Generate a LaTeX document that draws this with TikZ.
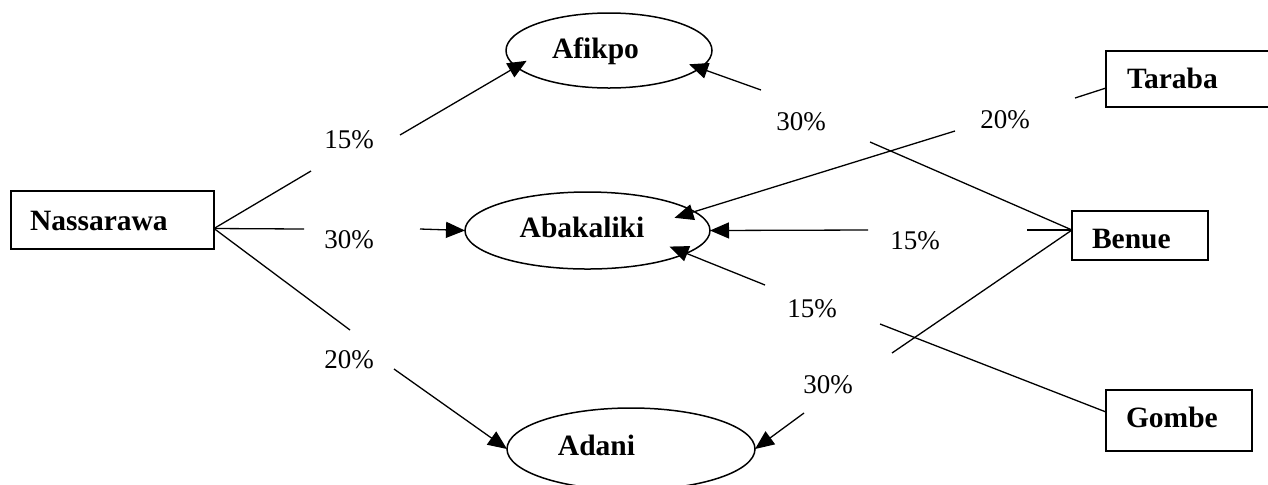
\documentclass[tikz,border=0pt]{standalone}
\usepackage{fontspec}
\setmainfont{Liberation Serif}
\usetikzlibrary{arrows.meta,shapes.geometric}
\begin{document}
\begin{tikzpicture}[x=0.5pt,y=-0.5pt,
  conn/.style={line width=0.65pt},
  arr/.style={conn,-{Triangle[length=9.5pt,width=8pt]}},
  pct/.style={font=\fontsize{13.5}{16}\selectfont, inner sep=0pt, anchor=base},
  place/.style={draw, line width=0.75pt, ellipse, inner sep=0pt, outer sep=0pt,
    font=\fontsize{14.75}{17}\selectfont\bfseries, text height=10.2pt},
  statebox/.style={draw, line width=0.8pt, rectangle, inner ysep=0pt, outer sep=0pt,
    align=left, anchor=north west, font=\fontsize{14.75}{17}\selectfont\bfseries}
]
\useasboundingbox (0,0) rectangle (1268,484);

% boxes
\node[statebox, inner xsep=9.5pt, text width=82.5pt, text height=19.5pt, text depth=9.5pt] (nas) at (11,191) {Nassarawa};
\node[statebox, inner xsep=10.5pt, text width=90pt, text height=18.5pt, text depth=9.5pt] (taraba) at (1106,51) {Taraba};
\node[statebox, inner xsep=10pt, text width=48pt, text height=18.5pt, text depth=6pt] (benue) at (1072,211) {Benue};
\node[statebox, inner xsep=10pt, text width=53pt, text height=18.5pt, text depth=12pt] (gombe) at (1106,390) {Gombe};

% ellipses
\node[place, minimum width=103pt, minimum height=37.5pt, text depth=2.7pt] (afikpo) at (609,50.5) {\hspace*{-13.5pt}Afikpo};
\node[place, minimum width=122.5pt, minimum height=38.5pt, text depth=3.7pt] (abak) at (587.5,230.5) {\hspace*{-5.5pt}Abakaliki};
\node[place, minimum width=124pt, minimum height=41pt, text depth=4.2pt] (adani) at (631,449) {\hspace*{-34.5pt}Adani};

% connection points on boxes
\coordinate (nasout) at ([yshift=-4.25pt]nas.east);
\coordinate (benout) at ([yshift=2.75pt]benue.west);
\coordinate (tarout) at ([yshift=-4.5pt]taraba.west);
\coordinate (gomout) at ([yshift=4.25pt]gombe.west);

% segment ends beside the labels
\coordinate (c1a) at (311,171); \coordinate (c1b) at (400,135);
\coordinate (c2a) at (304,229); \coordinate (c2b) at (420,229);
\coordinate (c3a) at (350,330); \coordinate (c3b) at (394,369);
\coordinate (c4a) at (870,142); \coordinate (c4b) at (761,90);
\coordinate (c5a) at (1075,98); \coordinate (c5b) at (955,131);
\coordinate (c6a) at (1027,230); \coordinate (c6b) at (868,230);
\coordinate (c7a) at (880,324); \coordinate (c7b) at (765,285);
\coordinate (c8a) at (892,353); \coordinate (c8b) at (804,413);

% labels
\node[pct] (l1) at (349,148) {15\%};
\node[pct] (l2) at (349,248) {30\%};
\node[pct] (l3) at (349,368) {20\%};
\node[pct] (l4) at (801,130) {30\%};
\node[pct] (l5) at (1005,128) {20\%};
\node[pct] (l6) at (915,249) {15\%};
\node[pct] (l7) at (812,317) {15\%};
\node[pct] (l8) at (828,393) {30\%};

% connectors
\draw[conn] (nasout) -- (c1a);
\draw[arr, shorten >=-6pt] (c1b) -- (afikpo.190);
\draw[conn] (nasout) -- (c2a);
\draw[arr] (c2b) -- (abak.west);
\draw[conn] (nasout) -- (c3a);
\draw[arr] (c3b) -- (adani.west);
\draw[conn] (benout) -- (c4a);
\draw[arr, shorten >=-5.75pt] (c4b) -- (afikpo.349);
\draw[conn] (tarout) -- (c5a);
\draw[arr, shorten >=-10.4pt] (c5b) -- (abak.10);
\draw[conn] (benout) -- (c6a);
\draw[arr] (c6b) -- (abak.east);
\draw[conn] (gomout) -- (c7a);
\draw[arr, shorten >=-9pt] (c7b) -- (abak.347);
\draw[conn] (benout) -- (c8a);
\draw[arr] (c8b) -- (adani.east);
\end{tikzpicture}
\end{document}
